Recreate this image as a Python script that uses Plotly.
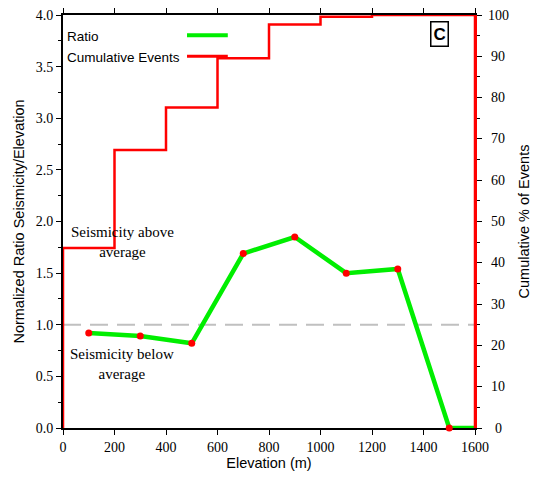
import plotly.graph_objects as go

# Data
ratio_x = [100, 300, 500, 700, 900, 1100, 1300, 1500]
ratio_y = [0.92, 0.89, 0.82, 1.69, 1.85, 1.50, 1.54, 0.0]
ratio_tail_x = [1500, 1600]
ratio_tail_y = [0.0, 0.0]

bin_edges = [0, 200, 400, 600, 800, 1000, 1200, 1400, 1600]
cum_pct = [43.6, 67.3, 77.6, 89.5, 97.7, 99.6, 100, 100]

right_ticks = [0, 10, 20, 30, 40, 50, 60, 70, 80, 90, 100]

# build step outline
sx, sy = [bin_edges[0]], [0]
for i, v in enumerate(cum_pct):
    sx += [bin_edges[i], bin_edges[i + 1]]
    sy += [v, v]
sx.append(bin_edges[-1]); sy.append(0)

serif = "Liberation Serif"
sans = "Liberation Sans"

fig = go.Figure()

fig.add_trace(go.Scatter(x=[0, 1600], y=[1.0, 1.0], mode="lines",
                         line=dict(color="#c0c0c0", width=2, dash="18px,9px"),
                         showlegend=False, hoverinfo="skip"))
fig.add_trace(go.Scatter(x=sx, y=sy, mode="lines", yaxis="y2",
                         line=dict(color="#ff0000", width=2.5),
                         showlegend=False, cliponaxis=False))
fig.add_trace(go.Scatter(x=ratio_x + ratio_tail_x[1:], y=ratio_y + ratio_tail_y[1:], mode="lines",
                         line=dict(color="#00ee00", width=4.5),
                         showlegend=False, cliponaxis=False))
fig.add_trace(go.Scatter(x=ratio_x, y=ratio_y, mode="markers",
                         marker=dict(color="#ff0000", size=7),
                         showlegend=False, cliponaxis=False))

# manual legend
fig.add_annotation(x=0.006, y=0.947, xref="paper", yref="paper", text="Ratio",
                   showarrow=False, xanchor="left", yanchor="middle",
                   font=dict(family=sans, size=13.5, color="black"))
fig.add_annotation(x=0.006, y=0.898, xref="paper", yref="paper", text="Cumulative Events",
                   showarrow=False, xanchor="left", yanchor="middle",
                   font=dict(family=sans, size=13.5, color="black"))
fig.add_shape(type="line", xref="paper", yref="paper", x0=0.301, x1=0.400, y0=0.951, y1=0.951,
              line=dict(color="#00ee00", width=4))
fig.add_shape(type="line", xref="paper", yref="paper", x0=0.301, x1=0.400, y0=0.900, y1=0.900,
              line=dict(color="#ff0000", width=3))

# panel label
fig.add_annotation(x=0.915, y=0.955, xref="paper", yref="paper", text="<b>C</b>",
                   showarrow=False, xanchor="center", yanchor="middle",
                   font=dict(family=sans, size=17, color="black"),
                   bordercolor="black", borderwidth=1.5, borderpad=2, bgcolor="white")

# region labels
fig.add_annotation(x=230, y=1.80, text="Seismicity above<br>average", showarrow=False,
                   font=dict(family=serif, size=15, color="black"), align="center")
fig.add_annotation(x=230, y=0.62, text="Seismicity below<br>average", showarrow=False,
                   font=dict(family=serif, size=15, color="black"), align="center")

# right-axis tick labels (centred, as in the reference)
for t in right_ticks:
    fig.add_annotation(x=1.056, y=t, xref="paper", yref="y2", text=str(t), showarrow=False,
                       xanchor="center", yanchor="middle",
                       font=dict(family=serif, size=14, color="black"))

fig.update_layout(
    width=533, height=482,
    margin=dict(l=63, r=58, t=15, b=54),
    plot_bgcolor="white", paper_bgcolor="white",
    showlegend=False,
    xaxis=dict(range=[0, 1600], dtick=200, tick0=0, showgrid=False, zeroline=False,
               showline=True, linecolor="black", linewidth=2, mirror="ticks",
               ticks="outside", ticklen=5, tickcolor="black", tickwidth=1,
               tickfont=dict(family=serif, size=14, color="black"),
               title=dict(text="Elevation (m)", font=dict(family=sans, size=14.5, color="black"), standoff=4),
               layer="below traces", automargin=False),
    yaxis=dict(range=[0, 4], dtick=0.5, tickformat=".1f", showgrid=False, zeroline=False,
               showline=True, linecolor="black", linewidth=2,
               ticks="outside", ticklen=5, tickcolor="black", tickwidth=1,
               minor=dict(dtick=0.25, ticks="outside", ticklen=3, tickcolor="black"),
               tickfont=dict(family=serif, size=14, color="black"),
               title=dict(text="Normalized Ratio Seismicity/Elevation", font=dict(family=sans, size=14.5, color="black"), standoff=8),
               layer="below traces", automargin=False),
    yaxis2=dict(range=[0, 100], dtick=10, overlaying="y", side="right", showgrid=False, zeroline=False,
                showline=True, linecolor="#ff0000", linewidth=2,
                ticks="outside", ticklen=5, tickcolor="black", tickwidth=1,
                minor=dict(dtick=5, ticks="outside", ticklen=3, tickcolor="black"),
                showticklabels=False,
                title=dict(text="Cumulative % of Events", font=dict(family=sans, size=14.5, color="black"), standoff=38),
                layer="below traces", automargin=False),
)

fig.write_html("out.html")
